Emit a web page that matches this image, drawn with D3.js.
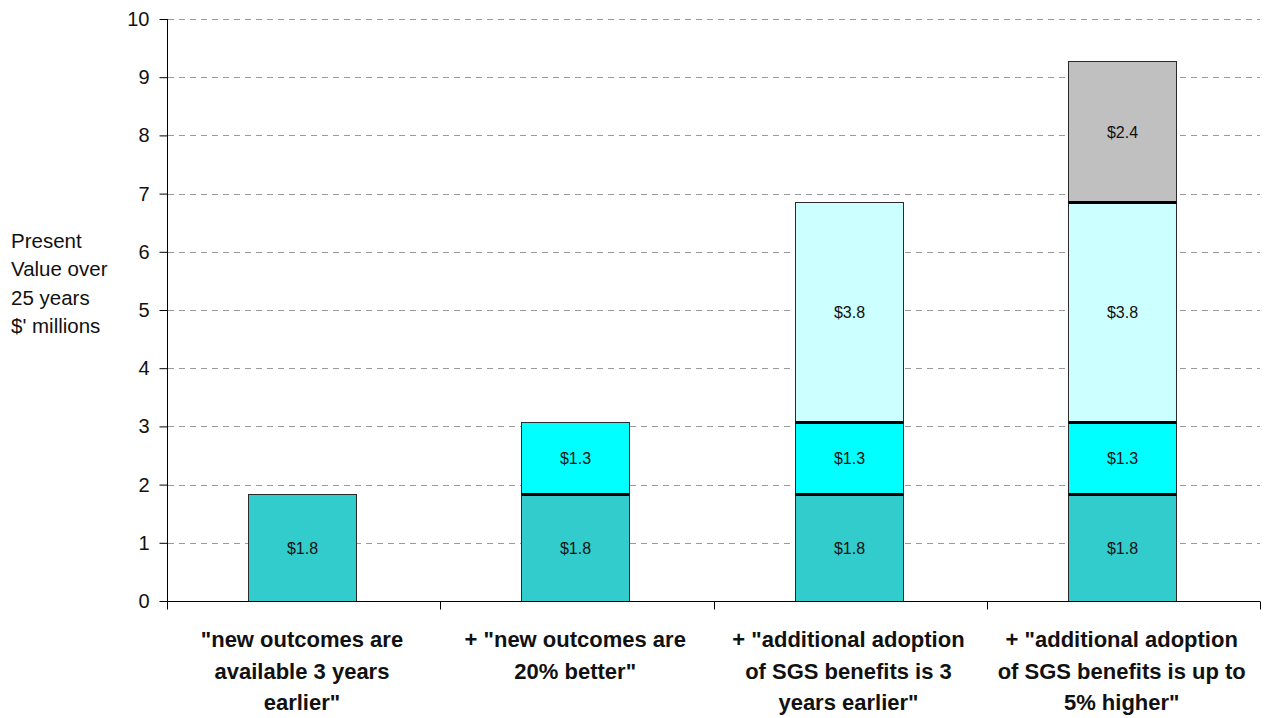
<!DOCTYPE html>
<html><head><meta charset="utf-8">
<script src="https://cdn.jsdelivr.net/npm/d3@7"></script>
<style>body{margin:0;background:#fff}svg{display:block;font-family:"Liberation Sans",Arial,sans-serif}</style>
</head><body><svg id="c" width="1265" height="718"></svg>
<script>
const categories = [
  ['"new outcomes are', 'available 3 years', 'earlier"'],
  ['+ "new outcomes are', '20% better"'],
  ['+ "additional adoption', 'of SGS benefits is 3', 'years earlier"'],
  ['+ "additional adoption', 'of SGS benefits is up to', '5% higher"']
];
const seriesNames = ["earlier", "better", "adoptionEarlier", "adoptionHigher"];
const s1 = [1.83, 1.83, 1.83, 1.83];
const s2 = [0, 1.24, 1.24, 1.24];
const s3 = [0, 0, 3.78, 3.78];
const s4 = [0, 0, 0, 2.42];
const segLabels = ["$1.8", "$1.3", "$3.8", "$2.4"];
const colors = ["#33CCCC", "#00FFFF", "#CCFFFF", "#C0C0C0"];
const yTicks = [0,1,2,3,4,5,6,7,8,9,10];
const yTitle = ["Present", "Value over", "25 years", "$' millions"];

const svg = d3.select("#c");
const x0 = 167, x1 = 1260, yTop = 19, yBot = 601;
const x = d3.scaleBand().domain(d3.range(categories.length)).range([x0, x1]).paddingInner(0.605).paddingOuter(0.3025).align(0.49);
const y = d3.scaleLinear().domain([0, 10]).range([yBot, yTop]);

// gridlines
svg.append("g").selectAll("line").data(yTicks.filter(d => d > 0)).join("line")
  .attr("x1", x0 + 1).attr("x2", x1).attr("y1", d => Math.round(y(d)) + 0.5).attr("y2", d => Math.round(y(d)) + 0.5)
  .attr("stroke", "#9a9a9a").attr("stroke-width", 1).attr("stroke-dasharray", "6,5");

// stacked data
const table = categories.map((c, i) => ({i, earlier: s1[i], better: s2[i], adoptionEarlier: s3[i], adoptionHigher: s4[i]}));
const stack = d3.stack().keys(seriesNames)(table);

const g = svg.append("g");
stack.forEach((layer, k) => {
  layer.forEach(d => {
    if (d[1] - d[0] <= 0) return;
    const i = d.data.i;
    const bx = Math.round(x(i)) + 0.5, bw = Math.round(x.bandwidth());
    const top = Math.round(y(d[1])) + 0.5, bot = Math.round(y(d[0])) + 0.5;
    g.append("rect").attr("x", bx).attr("y", top).attr("width", bw).attr("height", bot - top)
      .attr("fill", colors[k]).attr("stroke", "#2a2a2a").attr("stroke-width", 1);
    g.append("text").attr("x", bx + bw / 2).attr("y", (top + bot) / 2).attr("dy", "0.35em")
      .attr("text-anchor", "middle").attr("font-size", 16).attr("fill", "#111").text(segLabels[k]);
  });
});
// thick separators between stacked segments
stack.forEach((layer, k) => {
  if (k === 0) return;
  layer.forEach(d => {
    if (d[1] - d[0] <= 0) return;
    const i = d.data.i;
    const bx = Math.round(x(i)) + 0.5, bw = Math.round(x.bandwidth());
    g.append("line").attr("x1", bx).attr("x2", bx + bw).attr("y1", Math.round(y(d[0])) + 0.5).attr("y2", Math.round(y(d[0])) + 0.5)
      .attr("stroke", "#000").attr("stroke-width", 3);
  });
});

// y axis
const ya = svg.append("g").attr("transform", `translate(${x0 + 0.5},0)`)
  .call(d3.axisLeft(y).tickValues(yTicks).tickSize(8).tickPadding(10).tickSizeOuter(0));
ya.select(".domain").attr("stroke", "#000").attr("d", `M0,${y(10)}V${yBot + 1}`);
ya.selectAll(".tick line").attr("stroke", "#000");
ya.selectAll(".tick text").attr("font-size", 20).attr("fill", "#111").attr("font-family", "Liberation Sans, Arial, sans-serif");

// x axis line & ticks
const xa = svg.append("g").attr("transform", `translate(0,${yBot + 0.5})`);
xa.append("line").attr("x1", x0).attr("x2", x1).attr("stroke", "#000");
const bounds = d3.range(categories.length + 1).map(i => x0 + i * (x1 - x0) / categories.length);
xa.selectAll(".xt").data(bounds).join("line").attr("class", "xt")
  .attr("x1", d => Math.round(d) + 0.5).attr("x2", d => Math.round(d) + 0.5).attr("y1", 0).attr("y2", 8).attr("stroke", "#000");

// x labels
categories.forEach((lines, i) => {
  const cx = x(i) + x.bandwidth() / 2;
  const t = svg.append("text").attr("text-anchor", "middle").attr("font-size", 22).attr("font-weight", "bold").attr("fill", "#111");
  lines.forEach((ln, j) => t.append("tspan").attr("x", cx).attr("y", 647 + j * 31.5).text(ln));
});

// y title
const yt = svg.append("text").attr("font-size", 20.5).attr("fill", "#111");
yTitle.forEach((ln, j) => yt.append("tspan").attr("x", 11).attr("y", 248 + j * 28.3).text(ln));
</script>
</body></html>
